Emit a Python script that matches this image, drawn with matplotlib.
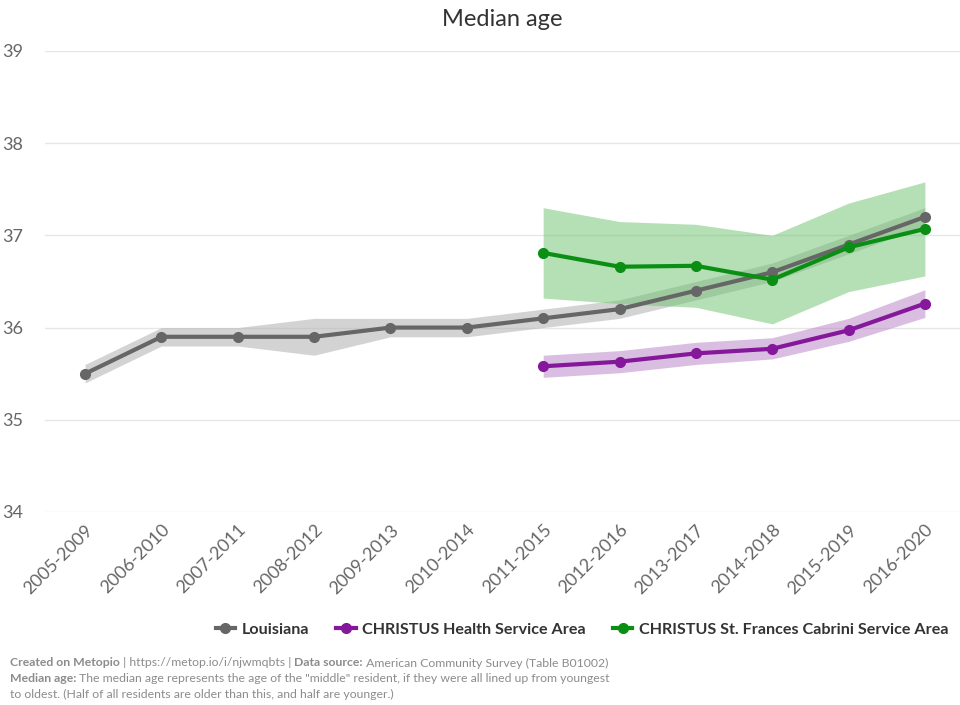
import matplotlib
matplotlib.use("Agg")
import matplotlib.pyplot as plt

plt.rcParams["font.family"] = ["Lato", "DejaVu Sans"]

periods = ["2005-2009", "2006-2010", "2007-2011", "2008-2012", "2009-2013", "2010-2014",
           "2011-2015", "2012-2016", "2013-2017", "2014-2018", "2015-2019", "2016-2020"]

louisiana = [35.5, 35.9, 35.9, 35.9, 36.0, 36.0, 36.1, 36.2, 36.4, 36.6, 36.9, 37.2]
louisiana_lo = [35.4, 35.8, 35.8, 35.7, 35.9, 35.9, 36.0, 36.1, 36.3, 36.5, 36.8, 37.1]
louisiana_hi = [35.6, 36.0, 36.0, 36.1, 36.1, 36.1, 36.2, 36.3, 36.5, 36.7, 37.0, 37.3]

christus = [35.58, 35.63, 35.72, 35.77, 35.97, 36.26]
christus_lo = [35.46, 35.51, 35.60, 35.66, 35.85, 36.11]
christus_hi = [35.70, 35.75, 35.84, 35.89, 36.10, 36.41]

cabrini = [36.81, 36.66, 36.67, 36.52, 36.87, 37.07]
cabrini_lo = [36.32, 36.26, 36.22, 36.04, 36.39, 36.56]
cabrini_hi = [37.30, 37.15, 37.12, 37.00, 37.35, 37.58]

x_all = list(range(len(periods)))
x_late = x_all[6:]

fig = plt.figure(figsize=(9.6, 7.05), dpi=100)
ax = fig.add_axes([0.047, 0.2738, 0.953, 0.6539])

ax.fill_between(x_all, louisiana_lo, louisiana_hi, color="#b0b0b0", alpha=0.55, lw=0, zorder=1)
ax.fill_between(x_late, christus_lo, christus_hi, color="#b57fc4", alpha=0.5, lw=0, zorder=1)
ax.fill_between(x_late, cabrini_lo, cabrini_hi, color="#6cc26c", alpha=0.5, lw=0, zorder=1)

ax.plot(x_all, louisiana, color="#666666", lw=3, marker="o", ms=7, label="Louisiana", zorder=3)
ax.plot(x_late, christus, color="#84179a", lw=3, marker="o", ms=7,
        label="CHRISTUS Health Service Area", zorder=3)
ax.plot(x_late, cabrini, color="#0a8f14", lw=3, marker="o", ms=7,
        label="CHRISTUS St. Frances Cabrini Service Area", zorder=3)

ax.set_xlim(-0.524, 11.46)
ax.set_ylim(34, 39)
ax.set_yticks([34, 35, 36, 37, 38, 39])
ax.set_xticks(x_all)
ax.set_xticklabels(periods, rotation=45, ha="right", va="top", rotation_mode="anchor")
ax.tick_params(axis="both", length=0, labelsize=13, labelcolor="#666666")
ax.tick_params(axis="y", pad=16)
ax.tick_params(axis="x", pad=7)
ax.grid(axis="y", color="#e6e6e6", lw=1)
ax.set_axisbelow(True)
for s in ax.spines.values():
    s.set_visible(False)

ax.set_title("Median age", fontsize=17, color="#333333", pad=18)

leg = fig.legend(loc="center right", bbox_to_anchor=(1.003, 0.107), ncol=3, frameon=False,
                 handlelength=1.2, handletextpad=0.4, columnspacing=1.7,
                 prop={"weight": "bold", "size": 11.6})
for t in leg.get_texts():
    t.set_color("#333333")

# footer with mixed bold / regular runs
fig.canvas.draw()
renderer = fig.canvas.get_renderer()
footer = [
    [("Created on Metopio", "bold"), (" | https://metop.io/i/njwmqbts | ", "normal"),
     ("Data source:", "bold"), (" American Community Survey (Table B01002)", "normal")],
    [("Median age:", "bold"),
     (" The median age represents the age of the \"middle\" resident, if they were all lined up from youngest", "normal")],
    [("to oldest. (Half of all residents are older than this, and half are younger.)", "normal")],
]
y0 = 1 - 663 / 705
for i, runs in enumerate(footer):
    x = 10 / 960
    y = y0 - i * 15.5 / 705
    for txt, w in runs:
        t = fig.text(x, y, txt, fontsize=8.8, color="#8c8c8c", weight=w, va="center", ha="left")
        bb = t.get_window_extent(renderer)
        x += bb.width / fig.bbox.width

fig.savefig("out.png", dpi=100)
